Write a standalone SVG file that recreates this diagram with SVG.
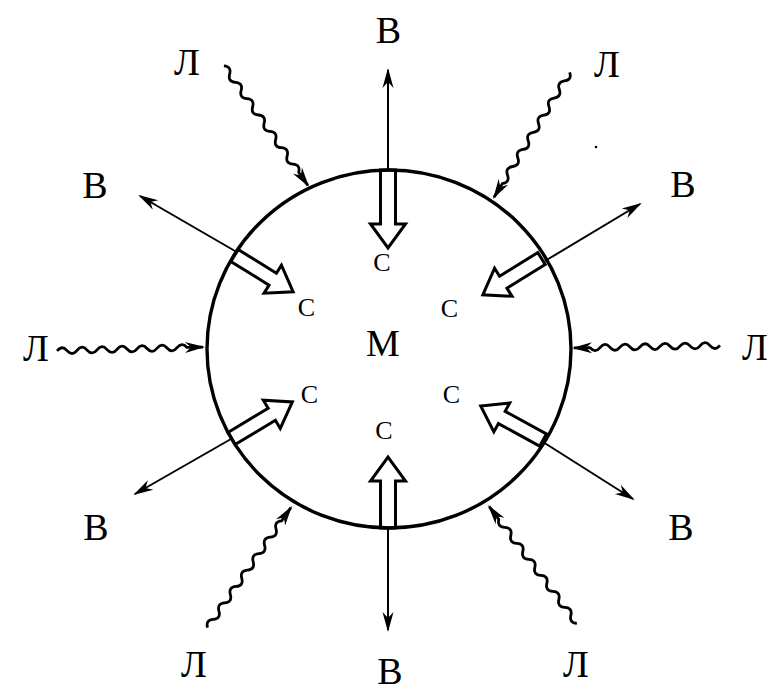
<svg xmlns="http://www.w3.org/2000/svg" width="769" height="692" viewBox="0 0 769 692">
<style>
.lbl{font-family:"Liberation Serif","Times New Roman",serif;font-size:38px;fill:#000;text-anchor:middle}
.sm{font-family:"Liberation Serif","Times New Roman",serif;font-size:26px;fill:#000;text-anchor:middle}
.thin{stroke:#000;stroke-width:2;fill:none;marker-end:url(#ah)}
.wave{stroke:#000;stroke-width:2.8;fill:none;stroke-linejoin:round;marker-end:url(#ah)}
.hollow{stroke:#000;stroke-width:3;fill:#fff;stroke-linejoin:miter;stroke-miterlimit:10}
</style>
<defs>
<marker id="ah" markerUnits="userSpaceOnUse" viewBox="-22 -7 26 14" refX="0" refY="0" markerWidth="26" markerHeight="14" orient="auto">
<path d="M2,0 L-18,-5.5 L-12,0 L-18,5.5 Z" fill="#000"/>
</marker>
<path id="wv" d="M-148,0 q5,-6 10,0 t10,0 t10,0 t10,0 t10,0 t10,0 t10,0 t10,0 t10,0 t10,0 t10,0 t10,0 t10,0 L-2,0"/>
</defs>
<rect width="769" height="692" fill="#fff"/>
<g id="hollow-arrows">
<polygon class="hollow" transform="translate(388,170) rotate(90)" points="0,-7.5 54,-7.5 54,-17.5 78,0 54,17.5 54,7.5 0,7.5"/>
<polygon class="hollow" transform="translate(388,528) rotate(-90)" points="0,-7.5 47,-7.5 47,-17.5 71,0 47,17.5 47,7.5 0,7.5"/>
<polygon class="hollow" transform="translate(234.5,255.5) rotate(31.8)" points="0,-7 45,-7 45,-16.5 69,0 45,16.5 45,7 0,7"/>
<polygon class="hollow" transform="translate(541.5,258.5) rotate(148.2)" points="0,-7 45,-7 45,-16.5 69,0 45,16.5 45,7 0,7"/>
<polygon class="hollow" transform="translate(231.5,438.5) rotate(-31)" points="0,-7 47,-7 47,-16.5 71,0 47,16.5 47,7 0,7"/>
<polygon class="hollow" transform="translate(543,440) rotate(-151.3)" points="0,-7 47,-7 47,-16.5 71,0 47,16.5 47,7 0,7"/>
</g>
<g id="cell">
<ellipse cx="389" cy="349" rx="182" ry="179" fill="none" stroke="#000" stroke-width="3.4"/>
</g>
<g id="connectors">
<line class="thin" x1="388" y1="170" x2="388" y2="70"/>
<line class="thin" x1="388" y1="528" x2="388" y2="630"/>
<line class="thin" x1="235" y1="251" x2="140" y2="196"/>
<line class="thin" x1="545" y1="261" x2="640" y2="204"/>
<line class="thin" x1="231" y1="439" x2="135" y2="494"/>
<line class="thin" x1="543" y1="442" x2="633" y2="499"/>
<use href="#wv" class="wave" transform="translate(309,187) rotate(54.9)"/>
<use href="#wv" class="wave" transform="translate(205,347) rotate(-1.5)"/>
<use href="#wv" class="wave" transform="translate(572,348) rotate(179)"/>
<use href="#wv" class="wave" transform="translate(493,199) rotate(121.2)"/>
<use href="#wv" class="wave" transform="translate(292,506) rotate(-55.2)"/>
<use href="#wv" class="wave" transform="translate(488,505) rotate(-126.9)"/>
</g>
<g id="labels">
<text class="lbl" x="388.5" y="43">В</text>
<text class="lbl" x="187" y="75">Л</text>
<text class="lbl" x="607" y="77">Л</text>
<text class="lbl" x="95" y="198">В</text>
<text class="lbl" x="683" y="197">В</text>
<text class="lbl" x="36" y="361">Л</text>
<text class="lbl" x="755" y="360">Л</text>
<text class="lbl" x="96" y="540">В</text>
<text class="lbl" x="681" y="540">В</text>
<text class="lbl" x="194" y="677">Л</text>
<text class="lbl" x="390" y="684">В</text>
<text class="lbl" x="576" y="677">Л</text>
<text class="lbl" x="383" y="356">М</text>
<text class="sm" x="382" y="271">С</text>
<text class="sm" x="306.5" y="316">С</text>
<text class="sm" x="449.5" y="317">С</text>
<text class="sm" x="309.5" y="403">С</text>
<text class="sm" x="451.5" y="403">С</text>
<text class="sm" x="384" y="439">С</text>
</g>
<circle cx="596" cy="147" r="1.3" fill="#000"/>
</svg>
